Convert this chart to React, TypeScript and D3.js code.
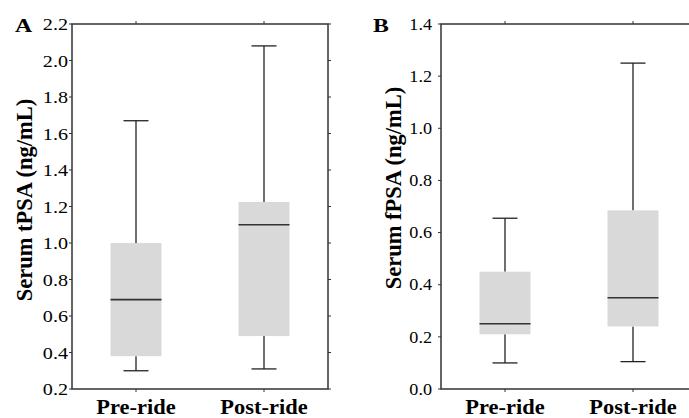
import React from "react";
import * as d3 from "d3";

const categories = ["Pre-ride", "Post-ride"];
// [min, q1, median, q3, max]
const tpsaStats = [
  [0.30, 0.38, 0.69, 1.0, 1.67],
  [0.31, 0.49, 1.10, 1.225, 2.08],
];
const fpsaStats = [
  [0.10, 0.21, 0.25, 0.45, 0.655],
  [0.105, 0.24, 0.35, 0.685, 1.25],
];
const tpsaTicks = [0.2, 0.4, 0.6, 0.8, 1.0, 1.2, 1.4, 1.6, 1.8, 2.0, 2.2];
const fpsaTicks = [0.0, 0.2, 0.4, 0.6, 0.8, 1.0, 1.2, 1.4];

const FONT = "Liberation Serif";
const AX = "#333";

type PanelProps = {
  letter: string;
  letterX: number;
  stats: number[][];
  ticks: number[];
  domain: [number, number];
  left: number;
  right: number;
  yLabel: string;
  yLabelX: number;
  yLabelCY: number;
  tickFont: number;
  tickStretch: number;
  tickGap: number;
};

function Panel(p: PanelProps) {
  const top = 24;
  const bottom = 389;
  const y = d3.scaleLinear().domain(p.domain).range([bottom, top]);
  const x = d3.scalePoint<string>().domain(categories).range([p.left, p.right]).padding(0.5);
  const boxW = 51;
  const capW = 25;
  const tx = p.left - p.tickGap;
  return (
    <g>
      <text x={p.letterX} y={32} fontFamily={FONT} fontWeight="bold" fontSize={19}
        transform={`translate(${p.letterX},0) scale(1.25,1) translate(${-p.letterX},0)`} fill="#000">{p.letter}</text>
      {categories.map((c, i) => {
        const [mn, q1, md, q3, mx] = p.stats[i];
        const cx = x(c)!;
        return (
          <g key={c}>
            <line x1={cx} x2={cx} y1={y(mx)} y2={y(q3)} stroke="#222" strokeWidth={1.3} />
            <line x1={cx} x2={cx} y1={y(q1)} y2={y(mn)} stroke="#222" strokeWidth={1.3} />
            <line x1={cx - capW / 2} x2={cx + capW / 2} y1={y(mx)} y2={y(mx)} stroke="#222" strokeWidth={1.3} />
            <line x1={cx - capW / 2} x2={cx + capW / 2} y1={y(mn)} y2={y(mn)} stroke="#222" strokeWidth={1.3} />
            <rect x={cx - boxW / 2} y={y(q3)} width={boxW} height={y(q1) - y(q3)} fill="#d9d9d9" />
            <line x1={cx - boxW / 2} x2={cx + boxW / 2} y1={y(md)} y2={y(md)} stroke="#333" strokeWidth={1.6} />
            <line x1={cx} x2={cx} y1={top} y2={top - 3} stroke={AX} strokeWidth={1} />
            <line x1={cx} x2={cx} y1={bottom} y2={bottom + 3} stroke={AX} strokeWidth={1} />
            <text x={cx} y={414} textAnchor="middle" fontFamily={FONT} fontWeight="bold" fontSize={21} fill="#000"
              transform={`translate(${cx},0) scale(1.07,1) translate(${-cx},0)`}>{c}</text>
          </g>
        );
      })}
      {p.ticks.map((t) => (
        <g key={t}>
          <line x1={p.left - 3} x2={p.left} y1={y(t)} y2={y(t)} stroke={AX} strokeWidth={1} />
          <line x1={p.right} x2={p.right + 3} y1={y(t)} y2={y(t)} stroke={AX} strokeWidth={1} />
          <text
            x={tx}
            y={y(t)}
            dy="0.35em"
            textAnchor="end"
            fontFamily={FONT}
            fontSize={p.tickFont}
            fill="#000"
            transform={`translate(${tx},0) scale(${p.tickStretch},1) translate(${-tx},0)`}
          >
            {d3.format(".1f")(t)}
          </text>
        </g>
      ))}
      <rect x={p.left} y={top} width={p.right - p.left} height={bottom - top} fill="none" stroke={AX} strokeWidth={1.5} />
      <text
        transform={`translate(${p.yLabelX},${p.yLabelCY}) rotate(-90)`}
        textAnchor="middle"
        fontFamily={FONT}
        fontWeight="bold"
        fontSize={22.5}
        fill="#000"
      >
        {p.yLabel}
      </text>
    </g>
  );
}

export default function App() {
  return (
    <svg width={689} height={418} style={{ position: "absolute", left: 0, top: 0, background: "#fff" }}>
      <rect width={689} height={418} fill="#fff" />
      <Panel letter="A" letterX={15} stats={tpsaStats} ticks={tpsaTicks} domain={[0.2, 2.2]}
        left={72} right={328} yLabel="Serum tPSA (ng/mL)" yLabelX={32} yLabelCY={200}
        tickFont={17.5} tickStretch={1.15} tickGap={4} />
      <Panel letter="B" letterX={373} stats={fpsaStats} ticks={fpsaTicks} domain={[0.0, 1.4]}
        left={441} right={697} yLabel="Serum fPSA (ng/mL)" yLabelX={401} yLabelCY={188}
        tickFont={16.5} tickStretch={1.1} tickGap={9} />
    </svg>
  );
}
